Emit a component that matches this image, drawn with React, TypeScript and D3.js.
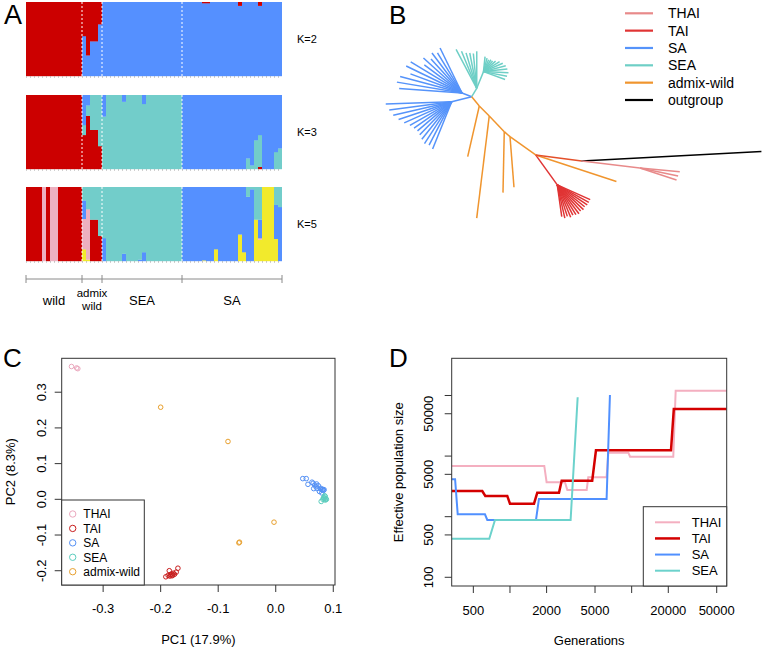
import React from 'react';
import * as d3 from 'd3';

const FONT = "'Liberation Sans', Arial, Helvetica, sans-serif";

// ---------- A: admixture ----------
const groupNames = ['wild', 'admix wild', 'SEA', 'SA'];
const groupSizes = [14, 5, 20, 25];

type Run = [number, number[]];

// K=2, bottom -> top: SA blue, red
const k2Runs: Run[] = [
  [14, [0, 1]],
  [1, [0.54, 0.46]],
  [1, [0.28, 0.72]],
  [2, [0.47, 0.53]],
  [1, [0.7, 0.3]],
  [25, [1, 0]],
  [2, [0.985, 0.015]],
  [7, [1, 0]],
  [1, [0.95, 0.05]],
  [4, [1, 0]],
  [1, [0.95, 0.05]],
  [5, [1, 0]],
];

// K=3, bottom -> top: red, teal, blue
const k3Runs: Run[] = [
  [14, [1, 0, 0]],
  [1, [0.46, 0.135, 0.405]],
  [1, [0.72, 0.14, 0.14]],
  [2, [0.53, 0.47, 0]],
  [1, [0.31, 0.69, 0]],
  [1, [0, 0.71, 0.29]],
  [4, [0, 1, 0]],
  [1, [0, 0.91, 0.09]],
  [4, [0, 1, 0]],
  [1, [0, 0.88, 0.12]],
  [9, [0, 1, 0]],
  [16, [0, 0, 1]],
  [1, [0, 0.145, 0.855]],
  [1, [0, 0.05, 0.95]],
  [1, [0, 0.39, 0.61]],
  [1, [0.03, 0.43, 0.54]],
  [3, [0, 0, 1]],
  [1, [0, 0.23, 0.77]],
  [1, [0, 0.28, 0.72]],
];

// K=5, bottom -> top: yellow, red, pink, blue, teal
const k5Runs: Run[] = [
  [4, [0, 1, 0, 0, 0]],
  [1, [0, 0, 1, 0, 0]],
  [1, [0, 1, 0, 0, 0]],
  [2, [0, 0, 1, 0, 0]],
  [6, [0, 1, 0, 0, 0]],
  [1, [0.16, 0, 0.41, 0.25, 0.18]],
  [1, [0.02, 0, 0.68, 0, 0.3]],
  [2, [0, 0.56, 0, 0, 0.44]],
  [1, [0, 0.34, 0, 0, 0.66]],
  [1, [0, 0, 0, 0.31, 0.69]],
  [4, [0, 0, 0, 0, 1]],
  [1, [0, 0, 0, 0.1, 0.9]],
  [3, [0, 0, 0, 0, 1]],
  [1, [0, 0, 0, 0.02, 0.98]],
  [1, [0, 0, 0, 0.12, 0.88]],
  [9, [0, 0, 0, 0, 1]],
  [5, [0, 0, 0, 1, 0]],
  [1, [0.01, 0, 0, 0.99, 0]],
  [2, [0, 0, 0, 1, 0]],
  [1, [0.16, 0, 0, 0.84, 0]],
  [5, [0, 0, 0, 1, 0]],
  [1, [0.36, 0, 0, 0.64, 0]],
  [1, [0.12, 0, 0, 0.88, 0]],
  [1, [0, 0, 0, 0.87, 0.13]],
  [1, [0, 0, 0, 0.97, 0.03]],
  [1, [0.56, 0, 0, 0, 0.44]],
  [1, [0.29, 0, 0.02, 0.25, 0.44]],
  [3, [1, 0, 0, 0, 0]],
  [1, [0.3, 0, 0, 0.46, 0.24]],
  [1, [0, 0, 0, 0.73, 0.27]],
];

const cRed = '#CC0000';
const cBlue = '#5590FF';
const cTeal = '#72CDCA';
const cPink = '#EDB0C0';
const cYellow = '#F2EA2C';

const kRows = [
  { label: 'K=2', runs: k2Runs, colors: [cBlue, cRed], top: 2, bottom: 76 },
  { label: 'K=3', runs: k3Runs, colors: [cRed, cTeal, cBlue], top: 95, bottom: 169 },
  { label: 'K=5', runs: k5Runs, colors: [cYellow, cRed, cPink, cBlue, cTeal], top: 187, bottom: 261 },
];

const expand = (runs: Run[]) => runs.flatMap(([n, p]) => Array.from({ length: n }, () => p));

function PanelA() {
  const n = d3.sum(groupSizes);
  const x = d3.scaleBand<number>().domain(d3.range(n)).range([26, 282]);
  const bounds = [0, ...Array.from(d3.cumsum(groupSizes))];
  const edge = (i: number) => (i < n ? (x(i) as number) : 282);
  return (
    <g>
      {kRows.map((row, ri) => {
        const y = d3.scaleLinear().domain([0, 1]).range([row.bottom, row.top]);
        const inds = expand(row.runs);
        return (
          <g key={ri}>
            {inds.map((props, i) => {
              let cum = 0;
              return props.map((p, c) => {
                const y0 = cum;
                cum += p;
                if (p <= 0) return null;
                return (
                  <rect key={`${i}-${c}`} x={x(i)} width={x.bandwidth()} y={y(y0 + p)}
                    height={y(y0) - y(y0 + p) + 0.2} fill={row.colors[c]} />
                );
              });
            })}
            {bounds.slice(1, 4).map((b, j) => (
              <line key={j} x1={edge(b)} x2={edge(b)} y1={row.top} y2={row.bottom}
                stroke="#fff" strokeWidth={1} strokeDasharray="2,2" />
            ))}
            {inds.map((_, i) => (
              <line key={'t' + i} x1={edge(i) + 0.5} x2={edge(i) + 0.5} y1={row.bottom} y2={row.bottom + 1.8}
                stroke="#b5b5b5" strokeWidth={0.8} />
            ))}
            <text x={297} y={(row.top + row.bottom) / 2 + 4} fontSize={11}>{row.label}</text>
          </g>
        );
      })}
      <line x1={26} x2={282} y1={279} y2={279} stroke="#8a8a8a" strokeWidth={1} />
      {bounds.map((b, j) => (
        <line key={j} x1={edge(b)} x2={edge(b)} y1={275} y2={283} stroke="#8a8a8a" strokeWidth={1} />
      ))}
      {groupNames.map((g, j) => {
        const cx = (edge(bounds[j]) + edge(bounds[j + 1])) / 2;
        if (g === 'admix wild') {
          return (
            <text key={g} x={cx} textAnchor="middle" fontSize={11.5}>
              <tspan x={cx} y={297}>admix</tspan>
              <tspan x={cx} y={310}>wild</tspan>
            </text>
          );
        }
        return <text key={g} x={cx} y={305} textAnchor="middle" fontSize={13}>{g}</text>;
      })}
      <text x={4} y={24} fontSize={27}>A</text>
    </g>
  );
}

// ---------- B: tree ----------
type TNode = { g: string; a: number; l: number; kids?: TNode[]; fan?: { from: number; to: number; lens: number[] } };

const saUpperLens = [50, 47, 50, 46, 52, 47, 60, 62, 55, 64, 66, 63];
const saLowerLens = [66, 63, 60, 56, 52, 48, 46, 45, 46, 48, 50, 49, 51];
const seaOuterLens = [44, 40, 37, 36, 35, 37];
const seaInnerLens = [15, 14, 13, 14, 14, 16, 19, 21, 23, 24, 25, 24, 23];
const taiLens = [32, 34, 33, 35, 34, 35, 36, 35, 36, 35, 36, 36, 36];
const thaiLens = [40, 39, 38.5];

const tree: TNode[] = [
  { g: 'SA', a: -159, l: 10.4, fan: { from: -116, to: -176, lens: saUpperLens } },
  { g: 'SA', a: 166, l: 20.6, fan: { from: 178, to: 112, lens: saLowerLens } },
  {
    g: 'SEA', a: -59, l: 9.8, fan: { from: -118, to: -90, lens: seaOuterLens },
    kids: [{ g: 'SEA', a: -68, l: 18, fan: { from: -84, to: 20, lens: seaInnerLens } }],
  },
  {
    g: 'admix-wild', a: 50.7, l: 12, kids: [
      { g: 'admix-wild', a: 102.9, l: 52 },
      {
        g: 'admix-wild', a: 45, l: 14.1, kids: [
          { g: 'admix-wild', a: 97, l: 103 },
          {
            g: 'admix-wild', a: 46.3, l: 21.7, kids: [
              { g: 'admix-wild', a: 91.2, l: 61 },
              {
                g: 'admix-wild', a: 41, l: 7.6, kids: [
                  { g: 'admix-wild', a: 85.5, l: 50.8 },
                  {
                    g: 'admix-wild', a: 35.5, l: 31.5, kids: [
                      { g: 'TAI', a: 54.2, l: 37, fan: { from: 82, to: 24, lens: taiLens } },
                      { g: 'admix-wild', a: 18.2, l: 85 },
                      {
                        g: 'stem', a: 7.4, l: 46.4, kids: [
                          { g: 'outgroup', a: -3, l: 180 },
                          { g: 'THAI', a: 7, l: 58.7, fan: { from: 5.3, to: 18, lens: thaiLens } },
                        ],
                      },
                    ],
                  },
                ],
              },
            ],
          },
        ],
      },
    ],
  },
];

const treeColors: Record<string, string> = {
  THAI: '#E88A8A', TAI: '#E03434', SA: '#5593FA', SEA: '#6ECFC6',
  'admix-wild': '#F0952E', outgroup: '#000000', stem: '#E4502A',
};
const treeLegend = ['THAI', 'TAI', 'SA', 'SEA', 'admix-wild', 'outgroup'];

type Seg = { x0: number; y0: number; x1: number; y1: number; g: string };

function layoutTree(nodes: TNode[], x0: number, y0: number, out: Seg[]) {
  nodes.forEach((nd) => {
    const r = (nd.a * Math.PI) / 180;
    const x1 = x0 + nd.l * Math.cos(r);
    const y1 = y0 + nd.l * Math.sin(r);
    out.push({ x0, y0, x1, y1, g: nd.g });
    if (nd.fan) {
      const f = nd.fan;
      const ang = d3.scaleLinear().domain([0, f.lens.length - 1]).range([f.from, f.to]);
      f.lens.forEach((len, i) => {
        const rr = (ang(i) * Math.PI) / 180;
        out.push({ x0: x1, y0: y1, x1: x1 + len * Math.cos(rr), y1: y1 + len * Math.sin(rr), g: nd.g });
      });
    }
    if (nd.kids) layoutTree(nd.kids, x1, y1, out);
  });
}

function PanelB() {
  const segs: Seg[] = [];
  layoutTree(tree, 471.7, 96.7, segs);
  const ly = d3.scalePoint<string>().domain(treeLegend).range([13.3, 100]);
  return (
    <g>
      {segs.map((s, i) => (
        <line key={i} x1={s.x0} y1={s.y0} x2={s.x1} y2={s.y1} stroke={treeColors[s.g]} strokeWidth={1.5} />
      ))}
      {treeLegend.map((g) => (
        <g key={g}>
          <line x1={625} x2={653} y1={ly(g)} y2={ly(g)} stroke={treeColors[g]} strokeWidth={2.2} />
          <text x={668} y={(ly(g) as number) + 5} fontSize={14}>{g}</text>
        </g>
      ))}
      <text x={389} y={24} fontSize={26}>B</text>
    </g>
  );
}

// ---------- C: PCA ----------
const thaiPC: [number, number][] = [[-0.355, 0.372], [-0.346, 0.368], [-0.344, 0.366]];
const taiPC: [number, number][] = [
  [-0.191, -0.217], [-0.187, -0.213], [-0.185, -0.2], [-0.183, -0.211], [-0.181, -0.209], [-0.179, -0.212],
  [-0.178, -0.207], [-0.176, -0.21], [-0.173, -0.204], [-0.17, -0.193], [-0.184, -0.215], [-0.18, -0.214],
];
const saPC: [number, number][] = [
  [0.047, 0.058], [0.053, 0.058], [0.056, 0.042], [0.063, 0.048], [0.065, 0.045], [0.066, 0.03],
  [0.068, 0.04], [0.07, 0.035], [0.072, 0.03], [0.074, 0.038], [0.076, 0.022], [0.079, 0.028],
  [0.081, 0.027], [0.082, 0.028], [0.083, 0.025], [0.08, 0.018], [0.078, 0.031], [0.071, 0.043], [0.084, 0.027],
];
const seaPC: [number, number][] = [
  [0.079, -0.006], [0.082, 0.0], [0.084, 0.005], [0.085, 0.002], [0.086, 0.008],
  [0.087, 0.001], [0.086, -0.002], [0.083, 0.004], [0.085, 0.01], [0.088, 0.0],
];
const admixPC: [number, number][] = [[-0.2, 0.258], [-0.083, 0.162], [-0.003, -0.064], [-0.064, -0.122], [-0.063, -0.12]];

const pcSeries = [
  { name: 'THAI', pts: thaiPC, color: '#EBA8BE' },
  { name: 'TAI', pts: taiPC, color: '#C81E1E' },
  { name: 'SA', pts: saPC, color: '#5591F5' },
  { name: 'SEA', pts: seaPC, color: '#5CCDBE' },
  { name: 'admix-wild', pts: admixPC, color: '#E8A02E' },
];
const pcXTicks = [-0.3, -0.2, -0.1, 0.0, 0.1];
const pcYTicks = [-0.2, -0.1, 0.0, 0.1, 0.2, 0.3];

function PanelC() {
  const L = 61.7, R = 335, T = 358.3, B = 585;
  const x = d3.scaleLinear().domain([-0.372, 0.103]).range([L, R]);
  const y = d3.scaleLinear().domain([-0.24, 0.395]).range([B, T]);
  const ly = d3.scalePoint<string>().domain(pcSeries.map((s) => s.name)).range([514, 571.7]);
  return (
    <g fontSize={13}>
      {pcSeries.map((s) =>
        s.pts.map((p, i) => (
          <circle key={s.name + i} cx={x(p[0])} cy={y(p[1])} r={2.3} fill="none" stroke={s.color} strokeWidth={1} />
        ))
      )}
      <rect x={L} y={T} width={R - L} height={B - T} fill="none" stroke="#333" />
      {pcXTicks.map((v) => (
        <g key={v}>
          <line x1={x(v)} x2={x(v)} y1={B} y2={B + 7} stroke="#333" />
          <text x={x(v)} y={613} textAnchor="middle">{v.toFixed(1)}</text>
        </g>
      ))}
      {pcYTicks.map((v) => (
        <g key={v}>
          <line x1={L} x2={L - 7} y1={y(v)} y2={y(v)} stroke="#333" />
          <text transform={`translate(41.7,${y(v)}) rotate(-90)`} textAnchor="middle" dy="0.35em">{v.toFixed(1)}</text>
        </g>
      ))}
      <text x={(L + R) / 2} y={644} textAnchor="middle">PC1 (17.9%)</text>
      <text transform={`translate(10,${(T + B) / 2}) rotate(-90)`} textAnchor="middle" dy="0.35em">PC2 (8.3%)</text>
      <rect x={L} y={500} width={144.3 - L} height={B - 500} fill="#fff" stroke="#333" />
      {pcSeries.map((s) => (
        <g key={s.name}>
          <circle cx={72.7} cy={ly(s.name)} r={3.2} fill="none" stroke={s.color} strokeWidth={1} />
          <text x={83.3} y={(ly(s.name) as number) + 4.3} fontSize={12}>{s.name}</text>
        </g>
      ))}
      <text x={3} y={367} fontSize={26}>C</text>
    </g>
  );
}

// ---------- D: effective population size ----------
const thaiNe: [number, number][] = [
  [332, 6870], [1914, 6870], [2000, 3700], [2830, 3700], [2960, 2760], [4270, 2760], [4400, 4470],
  [6220, 4470], [6430, 11380], [9400, 11380], [9700, 9780], [21980, 9780], [23000, 120000], [60400, 120000],
];
const taiNe: [number, number][] = [
  [332, 2655], [592, 2655], [627, 2200], [950, 2200], [1000, 1640], [1576, 1640], [1676, 2490],
  [2528, 2490], [2660, 3930], [4740, 3930], [5090, 12470], [21050, 12470], [22200, 59850], [60400, 59850],
];
const saNe: [number, number][] = [
  [332, 4140], [354, 4140], [372, 1095], [623, 1095], [651, 883], [1636, 883], [1730, 1960], [6225, 1960], [6630, 101900],
];
const seaNe: [number, number][] = [[332, 433], [676, 433], [753, 883], [3150, 883], [3600, 93500]];

const neSeries = [
  { name: 'THAI', pts: thaiNe, color: '#F4AFC0', w: 2 },
  { name: 'TAI', pts: taiNe, color: '#D40000', w: 2.5 },
  { name: 'SA', pts: saNe, color: '#5090FF', w: 2 },
  { name: 'SEA', pts: seaNe, color: '#6CD2CC', w: 2 },
];
const genTicks = [500, 1000, 2000, 5000, 10000, 20000, 50000];
const genLabels = [500, 2000, 5000, 20000, 50000];
const neTicks = [100, 500, 1000, 5000, 10000, 50000, 100000];
const neLabels = [100, 500, 5000, 50000];

function PanelD() {
  const L = 451.7, R = 726.7, T = 358.3, B = 586;
  const x = d3.scaleLog().domain([332, 60400]).range([L, R]);
  const y = d3.scaleLog().domain([71.8, 411000]).range([B, T]);
  const line = d3.line<[number, number]>().x((d) => x(d[0])).y((d) => y(d[1]));
  const ly = d3.scalePoint<string>().domain(neSeries.map((s) => s.name)).range([522.3, 570.7]);
  return (
    <g fontSize={13}>
      <defs>
        <clipPath id="clipD"><rect x={L} y={T} width={R - L} height={B - T} /></clipPath>
      </defs>
      <g clipPath="url(#clipD)">
        {neSeries.map((s) => (
          <path key={s.name} d={line(s.pts) || ''} fill="none" stroke={s.color} strokeWidth={s.w} />
        ))}
      </g>
      <rect x={L} y={T} width={R - L} height={B - T} fill="none" stroke="#333" />
      {genTicks.map((v) => (
        <line key={v} x1={x(v)} x2={x(v)} y1={B} y2={B + 7} stroke="#333" />
      ))}
      {genLabels.map((v) => (
        <text key={v} x={x(v)} y={615} textAnchor="middle">{v}</text>
      ))}
      {neTicks.map((v) => (
        <line key={v} x1={L} x2={L - 7} y1={y(v)} y2={y(v)} stroke="#333" />
      ))}
      {neLabels.map((v) => (
        <text key={v} transform={`translate(428.3,${y(v)}) rotate(-90)`} textAnchor="middle" dy="0.35em">{v}</text>
      ))}
      <text x={(L + R) / 2} y={645} textAnchor="middle">Generations</text>
      <text transform={`translate(398.3,${(T + B) / 2}) rotate(-90)`} textAnchor="middle" dy="0.35em">Effective population size</text>
      <rect x={643.3} y={506.7} width={R - 643.3} height={B - 506.7} fill="#fff" stroke="#333" />
      {neSeries.map((s) => (
        <g key={s.name}>
          <line x1={655} x2={680} y1={ly(s.name)} y2={ly(s.name)} stroke={s.color} strokeWidth={s.w} />
          <text x={691.7} y={(ly(s.name) as number) + 4.5}>{s.name}</text>
        </g>
      ))}
      <text x={389} y={367} fontSize={26}>D</text>
    </g>
  );
}

export default function App() {
  return (
    <svg width={762} height={650} fontFamily={FONT}
      style={{ position: 'absolute', left: 0, top: 0, background: '#fff' }}>
      <PanelA />
      <PanelB />
      <PanelC />
      <PanelD />
    </svg>
  );
}
